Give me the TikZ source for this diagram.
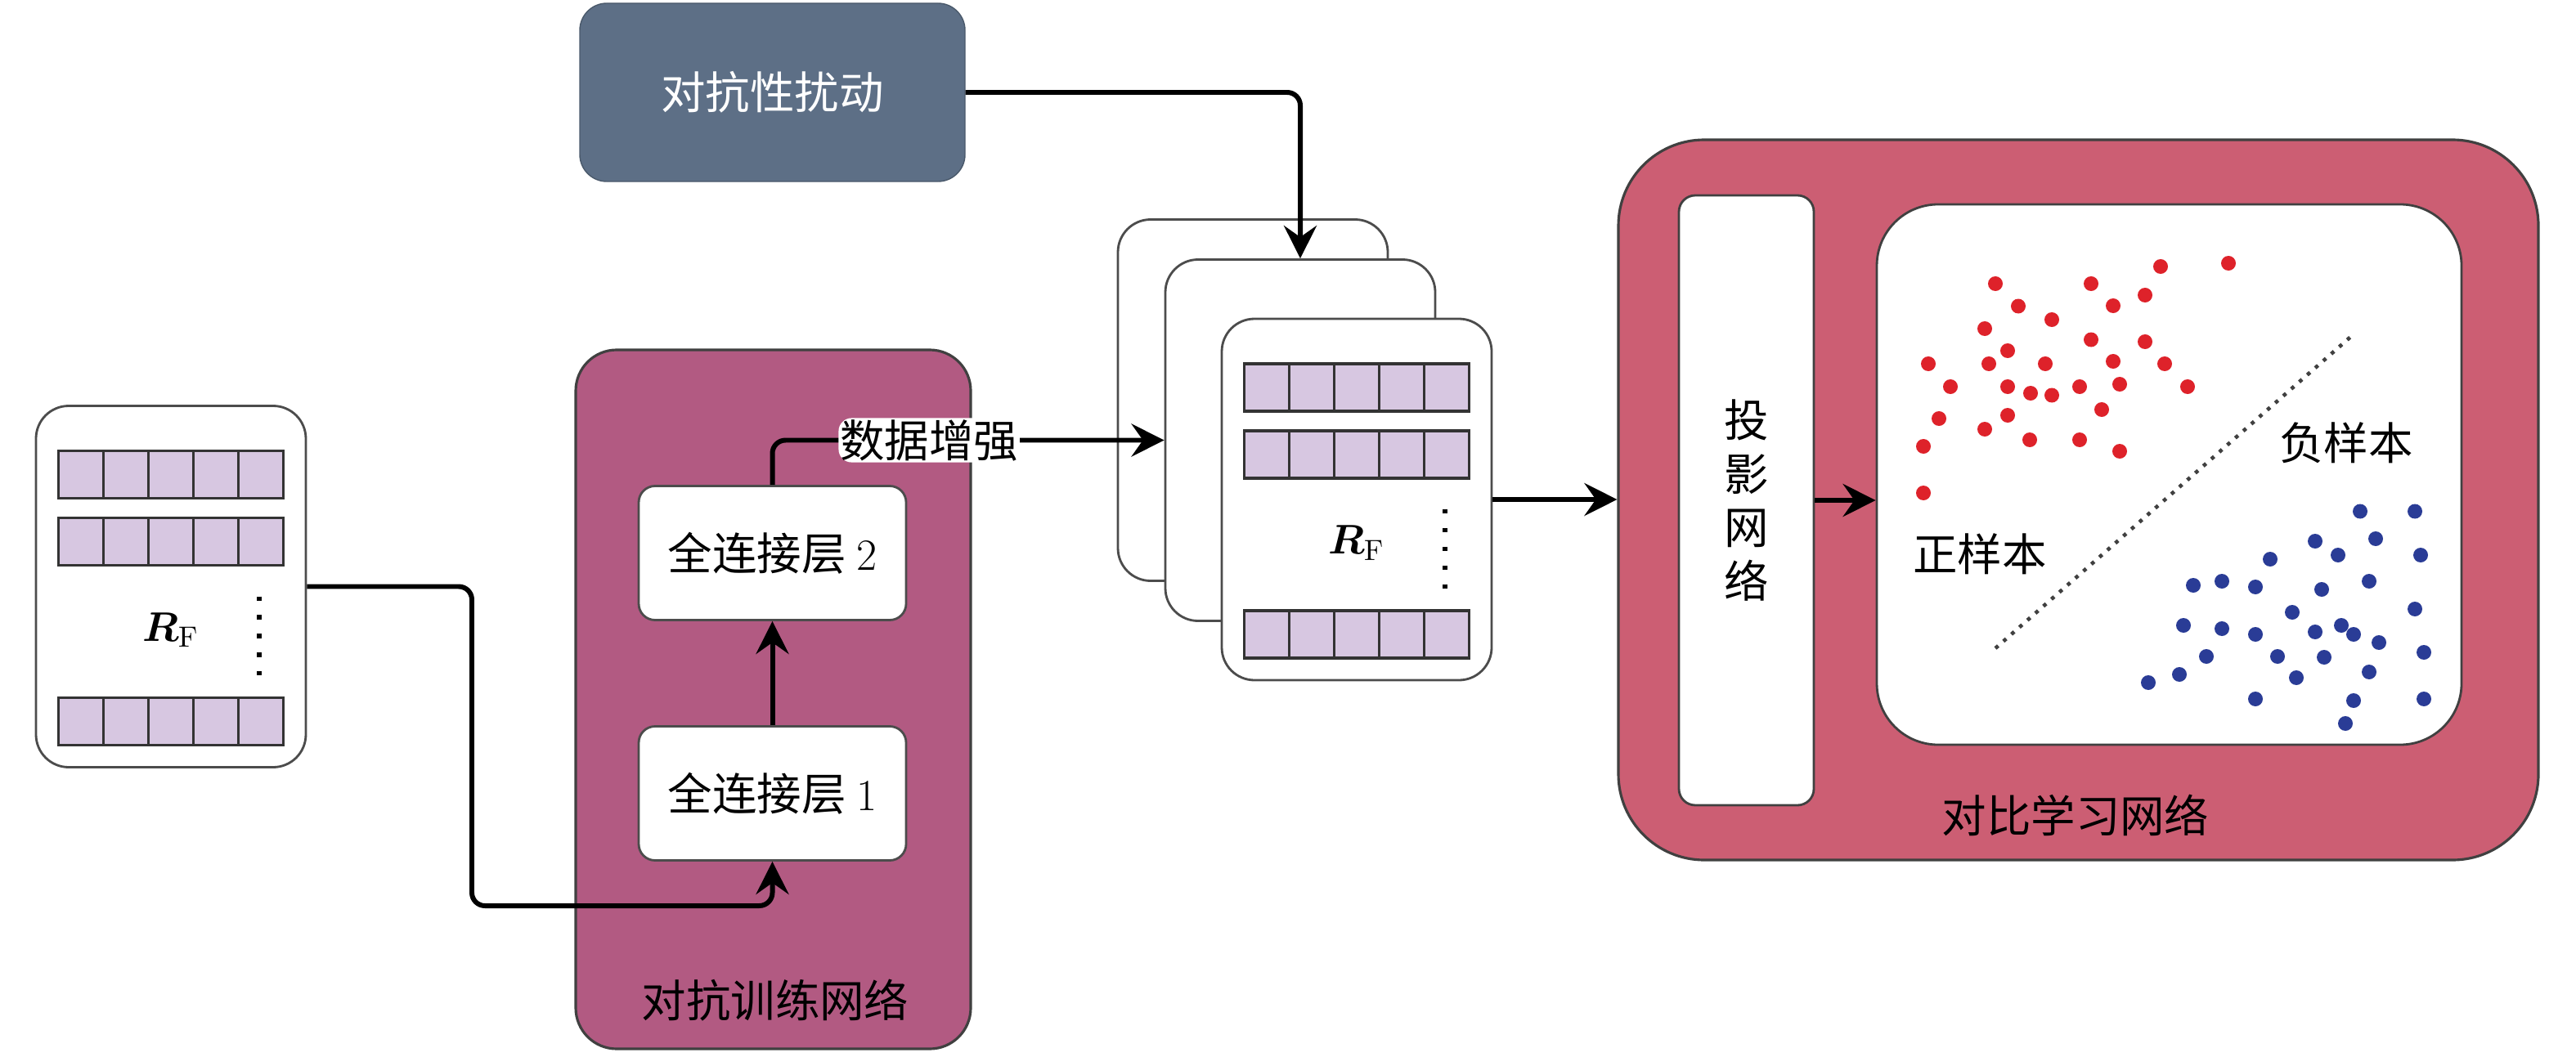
\documentclass[tikz,border=0pt]{standalone}
\usepackage{amsmath,bm}
\usepackage{fontspec}
\newfontfamily\cjk{Noto Sans CJK SC}
\usetikzlibrary{arrows.meta,positioning,calc}
\definecolor{advpink}{RGB}{178,90,130}
\definecolor{clred}{RGB}{204,94,115}
\definecolor{slate}{RGB}{93,111,134}
\definecolor{lavender}{RGB}{215,199,225}
\definecolor{posred}{RGB}{222,34,42}
\definecolor{negblue}{RGB}{42,60,150}

\begin{document}
\begin{tikzpicture}[
    font=\cjk\fontsize{15.5}{18.7}\selectfont,
    card/.style={rectangle, rounded corners=4mm, draw=black!70, line width=0.8pt,
        fill=white, minimum width=3.3cm, minimum height=4.42cm},
    vecrow/.style={rectangle, draw=black!80, line width=1pt, fill=lavender,
        minimum width=2.75cm, minimum height=0.58cm, inner sep=0pt,
        path picture={\foreach \k in {1,...,4}
            \draw[black!80, line width=1pt]
                ($(path picture bounding box.south west)!\k/5!(path picture bounding box.south east)$) --
                ($(path picture bounding box.north west)!\k/5!(path picture bounding box.north east)$);}},
    vdots/.style={line width=1.5pt, dash pattern=on 1.5pt off 5.02pt},
    fc/.style={rectangle, rounded corners=2mm, draw=black!70, line width=0.8pt, fill=white,
        minimum width=3.27cm, minimum height=1.64cm},
    panel/.style={rectangle, draw=black!75, line width=0.9pt},
    arr/.style={-{Stealth[length=4mm, width=4mm, inset=1.4mm]}, line width=1.7pt, rounded corners=1.6mm}
]
    \useasboundingbox (0,0) rectangle (31.5,12.92);

    % Input features
    \node[card] (in) at (2.09,5.745) {};

    % Adversarial training network
    \node[panel, rounded corners=5mm, fill=advpink, minimum width=4.83cm, minimum height=8.55cm]
        (adv) at (9.455,4.365) {};
    \node (adv-lab) at (9.48,0.68) {对抗训练网络};
    \node[fc] (fc2) at (9.445,6.155) {全连接层 {\rmfamily 2}};
    \node[fc] (fc1) at (9.445,3.215) {全连接层 {\rmfamily 1}};

    % Perturbation
    \node[rectangle, rounded corners=3.3mm, draw=slate!80!black, fill=slate, text=white,
        minimum width=4.71cm, minimum height=2.18cm] (pert) at (9.445,11.79) {对抗性扰动};

    % Augmented copies
    \node[card] (c1) at (15.32,8.025) {};
    \node[card] (c2) at (15.90,7.535) {};
    \node[card] (c3) at (16.59,6.81) {};

    % Feature rows
    \foreach \c in {in,c3} {
        \node[vecrow] (\c-r1) at ([yshift=1.37cm]\c.center) {};
        \node[vecrow] (\c-r2) at ([yshift=0.55cm]\c.center) {};
        \node[vecrow] (\c-r3) at ([yshift=-1.65cm]\c.center) {};
        \node[font=\fontsize{14.5}{16}\selectfont] (\c-lab) at ([yshift=-0.53cm]\c.center) {$\bm{R}_{\mathrm{F}}$};
        \draw[vdots] ([xshift=1.08cm, yshift=-0.12cm]\c.center) -- ([xshift=1.08cm, yshift=-1.1cm]\c.center);
    }

    % Contrastive learning network
    \node[panel, rounded corners=10.5mm, fill=clred, minimum width=11.25cm, minimum height=8.81cm]
        (cl) at (25.415,6.805) {};
    \node (cl-lab) at (25.38,2.95) {对比学习网络};
    \node[panel, rounded corners=2mm, line width=0.8pt, fill=white, minimum width=1.65cm,
        minimum height=7.46cm, align=center] (proj) at (21.355,6.80) {投\\影\\网\\络};
    \node[panel, rounded corners=7.5mm, line width=0.8pt, fill=white, minimum width=7.15cm,
        minimum height=6.61cm] (plane) at (26.525,7.115) {};

    % Samples
    \draw[black!75, line width=1.3pt, dash pattern=on 1.3pt off 2.4pt] (24.40,4.99) -- (28.79,8.84);
    \node (pos) at (24.21,6.145) {正样本};
    \node (neg) at (28.69,7.50) {负样本};
    \foreach \x/\y in {24.40/9.45, 25.57/9.45, 26.42/9.66, 27.25/9.70, 24.68/9.175, 25.84/9.18,
        26.23/9.31, 25.09/9.01, 24.27/8.90, 25.57/8.765, 26.23/8.74, 24.55/8.63, 23.58/8.47,
        24.32/8.47, 25.01/8.47, 25.84/8.50, 26.47/8.47, 23.85/8.19, 24.55/8.19, 24.83/8.11,
        25.09/8.085, 25.43/8.19, 25.92/8.22, 26.75/8.19, 25.70/7.91, 23.71/7.80, 24.55/7.84,
        24.27/7.67, 24.82/7.54, 25.43/7.54, 25.92/7.40, 23.52/7.46, 23.52/6.89}
        \fill[posred] (\x,\y) circle (0.9mm);
    \foreach \x/\y in {28.86/6.665, 29.53/6.665, 29.05/6.33, 28.31/6.30, 28.59/6.13, 29.60/6.13,
        27.76/6.08, 26.82/5.76, 27.17/5.81, 27.58/5.74, 28.39/5.71, 28.97/5.81, 28.03/5.43,
        29.53/5.47, 26.70/5.27, 27.17/5.23, 27.58/5.16, 28.31/5.19, 28.63/5.27, 28.78/5.16,
        29.09/5.06, 26.98/4.89, 27.85/4.89, 28.42/4.88, 29.64/4.94, 28.97/4.70, 26.65/4.67,
        26.27/4.57, 28.08/4.63, 27.58/4.37, 28.78/4.35, 29.64/4.37, 28.68/4.07}
        \fill[negblue] (\x,\y) circle (0.9mm);

    % Arrows
    \coordinate (turn) at (5.77,1.84);
    \draw[arr] (in.east) -| (turn) -| (fc1.south);
    \draw[arr] (fc1.north) -- (fc2.south);
    \draw[arr] (fc2.north) |- node[pos=0.7, fill=white, inner sep=0.5pt] (aug) {数据增强} (c2.west);
    \draw[arr] (pert.east) -| (c2.north);
    \draw[arr] (c3.east) -- (c3.east -| cl.west);
    \draw[arr] (proj.east) -- (proj.east -| plane.west);
\end{tikzpicture}
\end{document}
